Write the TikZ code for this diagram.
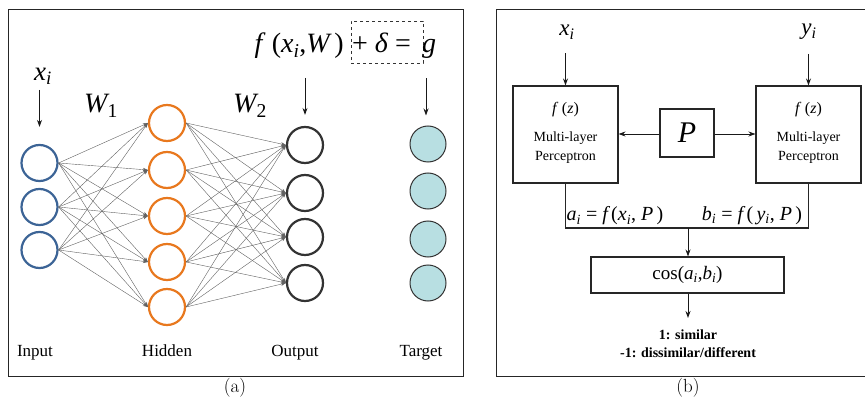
\documentclass[tikz,border=0pt]{standalone}
\usepackage{fontspec}
\usetikzlibrary{arrows.meta,calc}
\newfontfamily\tm{Liberation Serif}
\newcommand\iv[1]{{\itshape #1}}
\newcommand\sbi{\textsubscript{\itshape i}}
\newcommand\fsz[1]{\fontsize{#1}{#1}\selectfont}
\definecolor{inblue}{HTML}{3C6496}
\definecolor{hidorange}{HTML}{E8781E}
\definecolor{outgray}{HTML}{333333}
\definecolor{tgtfill}{HTML}{B8DFE2}
\begin{document}
\begin{tikzpicture}[x=1pt,y=-1pt,
  frame/.style={draw=black!85, line width=0.9pt},
  neuron/.style={circle, minimum size=36pt, inner sep=0pt, line width=2.2pt},
  inn/.style={neuron, draw=inblue},
  hid/.style={neuron, draw=hidorange},
  outn/.style={neuron, draw=outgray},
  tgt/.style={neuron, draw=outgray, fill=tgtfill, line width=1pt},
  edge/.style={draw=black!62, line width=0.4pt, -{Stealth[length=5pt,width=3.5pt]}},
  arr/.style={draw=black!90, line width=0.9pt, -{Stealth[length=7pt,width=5pt]}},
  lab/.style={font=\tm\fsz{17}, anchor=base, inner sep=0pt},
  blk/.style={draw=black!85, line width=1.1pt, inner sep=0pt},
  mlp/.style={font=\tm\fsz{14}, inner sep=0pt},
  res/.style={font=\tm\bfseries\fsz{14}, inner sep=0pt}
]
\useasboundingbox (0,0) rectangle (865,401);

% ---------- panel (a) ----------
\draw[frame] (8,9) rectangle (463,376);

\foreach \y [count=\i] in {163,207,250} \node[inn] (in\i) at (39.5,\y) {};
\foreach \y [count=\i] in {123,170,216,262,307} \node[hid] (hid\i) at (167,\y) {};
\foreach \y [count=\i] in {145,193,237,283} \node[outn] (out\i) at (305,\y) {};
\foreach \y [count=\i] in {144,191,239,283} \node[tgt] (tgt\i) at (428,\y) {};

\foreach \i in {1,2,3} \foreach \j in {1,...,5} \draw[edge] (in\i.east) -- (hid\j.west);
\foreach \i in {1,...,5} \foreach \j in {1,...,4} \draw[edge] (hid\i.east) -- (out\j.west);

\node[font=\tm\fsz{27}, inner sep=0pt] (lxi) at (43,76) {\iv{x}\sbi};
\coordinate (lxa) at (39.5,90);
\draw[arr] (lxa) -- ([yshift=17pt]in1.north);

\node[font=\tm\fsz{28}, inner sep=0pt] (w1) at (101,106) {\iv{W}\textsubscript{1}};
\node[font=\tm\fsz{28}, inner sep=0pt] (w2) at (250,106) {\iv{W}\textsubscript{2}};

\node[font=\tm\fsz{28}, anchor=base east, inner sep=0pt] (fx) at (344,53)
  {\iv{f}\,\,(\iv{x}\sbi,\iv{W}\,)};
\node[draw=black!80, dashed, line width=0.8pt, minimum width=72pt, minimum height=42pt,
  inner sep=0pt] (dl) at (387,42) {};
\node[font=\tm\fsz{28}, anchor=base west, inner sep=0pt] (pde) at (352,53)
  {+\hspace{0.25em}\iv{δ}\hspace{0.25em}=};
\node[font=\tm\fsz{28}, anchor=base west, inner sep=0pt] (gg) at (422,53) {\iv{g}};

\draw[arr] ([yshift=48pt]out1.north) -- ([yshift=11pt]out1.north);
\draw[arr] ([yshift=47pt,xshift=-2pt]tgt1.north) -- ([yshift=10pt,xshift=-2pt]tgt1.north);

\node[lab] (linput) at (35,356) {Input};
\node[lab] (lhidden) at (167,356) {Hidden};
\node[lab] (loutput) at (295,356) {Output};
\node[lab] (ltarget) at (421,356) {Target};

\node[font=\fsz{19}, inner sep=0pt] (capa) at (235,388) {(a)};

% ---------- panel (b) ----------
\draw[frame] (866,9) -- (496,9) -- (496,376) -- (866,376);

\node[font=\tm\fsz{23}, inner sep=0pt] (rxi) at (567,32) {\iv{x}\sbi};
\node[font=\tm\fsz{23}, inner sep=0pt] (ryi) at (809,32) {\iv{y}\sbi};

\node[blk, minimum width=105pt, minimum height=97pt] (lbox) at (565.5,134.5) {};
\node[blk, minimum width=105pt, minimum height=97pt] (rbox) at (808.5,134.5) {};
\node[blk, minimum width=54pt, minimum height=48pt, font=\tm\fsz{30}] (pbox) at (687,133) {\iv{P}};

\draw[arr] ([yshift=-14pt]lbox.north |- rxi.south) -- (lbox.north);
\draw[arr] ([yshift=-14pt]rbox.north |- ryi.south) -- (rbox.north);

\node[mlp, font=\tm\fsz{16}] (lfz) at (565.5,110) {\iv{f}\,\,(\iv{z})};
\node[mlp] (lml) at (565.5,138) {Multi-layer};
\node[mlp] (lpc) at (565.5,157) {Perceptron};
\node[mlp, font=\tm\fsz{16}] (rfz) at (808.5,110) {\iv{f}\,\,(\iv{z})};
\node[mlp] (rml) at (808.5,138) {Multi-layer};
\node[mlp] (rpc) at (808.5,157) {Perceptron};

\draw[arr] (pbox.west |- 0,134) -- (lbox.east |- 0,134);
\draw[arr] (pbox.east |- 0,134) -- (rbox.west |- 0,134);

\coordinate (jn) at (688,228);
\draw[draw=black!85, line width=1.1pt] (lbox.south) |- (jn) -| (rbox.south);

\node[font=\tm\fsz{20}, inner sep=0pt] (alab) at (615,216)
  {\iv{a}\sbi\ =\ \iv{f}\,(\iv{x}\sbi, \iv{P}\,)};
\node[font=\tm\fsz{20}, inner sep=0pt] (blab) at (752,216)
  {\iv{b}\sbi\ =\ \iv{f}\,(\,\iv{y}\sbi, \iv{P}\,)};

\node[blk, minimum width=193pt, minimum height=36pt, font=\tm\fsz{19}] (cosb) at (687.5,275)
  {cos(\iv{a}\sbi,\iv{b}\sbi)};
\draw[arr] (jn) -- (jn |- cosb.north);
\coordinate (resend) at (688,318);
\draw[arr] (cosb.south -| resend) -- (resend);

\node[res] (r1) at (688,335) {1: similar};
\node[res] (r2) at (688,353) {-1: dissimilar/different};

\node[font=\fsz{19}, inner sep=0pt] (capb) at (688,388) {(b)};
\end{tikzpicture}
\end{document}
